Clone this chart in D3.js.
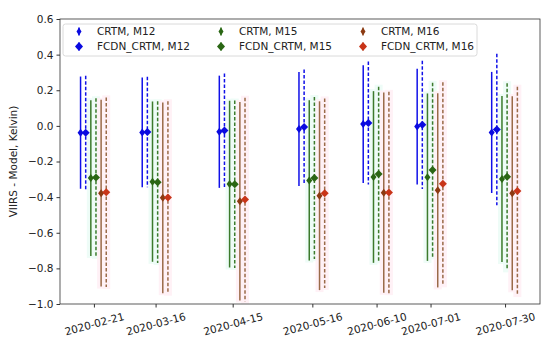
<!DOCTYPE html>
<html>
<head>
<meta charset="utf-8">
<script src="https://cdn.jsdelivr.net/npm/d3@7"></script>
<style>
body{margin:0;background:#fff;}
text{font-family:"DejaVu Sans",sans-serif;fill:#222;}
</style>
</head>
<body>
<svg width="550" height="349"></svg>
<script>
var dates = ["2020-02-21","2020-03-16","2020-04-15","2020-05-16","2020-06-10","2020-07-01","2020-07-30"];
var yTicks = [0.6,0.4,0.2,0.0,-0.2,-0.4,-0.6,-0.8,-1.0];

var crtmM12    = [-0.038,-0.037,-0.033,-0.017, 0.010,-0.004,-0.037];
var crtmM12Err = [ 0.315, 0.308, 0.315, 0.320, 0.330, 0.325, 0.340];
var fcdnM12    = [-0.038,-0.034,-0.026,-0.007, 0.016, 0.006,-0.020];
var fcdnM12Err = [ 0.320, 0.310, 0.320, 0.323, 0.345, 0.360, 0.425];
var crtmM15    = [-0.293,-0.313,-0.327,-0.306,-0.287,-0.288,-0.298];
var crtmM15Err = [ 0.437, 0.450, 0.468, 0.450, 0.482, 0.470, 0.466];
var fcdnM15    = [-0.290,-0.316,-0.328,-0.293,-0.270,-0.248,-0.286];
var fcdnM15Err = [ 0.445, 0.454, 0.470, 0.455, 0.490, 0.490, 0.525];
var crtmM16    = [-0.378,-0.404,-0.423,-0.392,-0.375,-0.362,-0.378];
var crtmM16Err = [ 0.524, 0.535, 0.557, 0.530, 0.562, 0.545, 0.545];
var fcdnM16    = [-0.372,-0.402,-0.414,-0.378,-0.374,-0.325,-0.365];
var fcdnM16Err = [ 0.532, 0.540, 0.572, 0.532, 0.565, 0.570, 0.585];

var series = [
    {name:"CRTM, M12", vals:crtmM12, errs:crtmM12Err, shift:-5.2, line:"#1010e8", mark:"#0a0ae0", dash:null, thin:true},
    {name:"FCDN_CRTM, M12", vals:fcdnM12, errs:fcdnM12Err, shift:-3.2, line:"#1010e8", mark:"#0a0ae0", dash:"3.5,2", thin:false},
    {name:"CRTM, M15", vals:crtmM15, errs:crtmM15Err, shift:-1.2, line:"#3c7a2c", mark:"#2a6614", dash:null, thin:true, bg:"#eefcf7"},
    {name:"FCDN_CRTM, M15", vals:fcdnM15, errs:fcdnM15Err, shift:0.8, line:"#3c7a2c", mark:"#2a6614", dash:"3.5,2", thin:false, bg:"#eefcf7"},
    {name:"CRTM, M16", vals:crtmM16, errs:crtmM16Err, shift:2.8, line:"#9a6a48", mark:"#8c3a12", dash:null, thin:true, bg:"#fff1f6"},
    {name:"FCDN_CRTM, M16", vals:fcdnM16, errs:fcdnM16Err, shift:4.8, line:"#9a6a48", mark:"#c83418", dash:"3.5,2", thin:false, bg:"#fff1f6"}
];

var W = 550, H = 349;
var mLeft = 60, mRight = 540, mTop = 19, mBottom = 304;
var parse = d3.timeParse("%Y-%m-%d");
var day = 86400000;
var first = parse(dates[0]), last = parse(dates[dates.length-1]);

var x = d3.scaleTime()
    .domain([new Date(+first - 13.2*day), new Date(+last + 13.6*day)])
    .range([mLeft, mRight]);
var y = d3.scaleLinear().domain([-1.0, 0.6]).range([mBottom, mTop]);

var svg = d3.select("svg");
svg.append("defs").append("clipPath").attr("id","clip")
    .append("rect").attr("x",mLeft).attr("y",mTop).attr("width",mRight-mLeft).attr("height",mBottom-mTop);

var plot = svg.append("g").attr("clip-path","url(#clip)");

function diamond(w,h){
    return "M0,"+(-h/2)+"L"+(w/2)+",0L0,"+(h/2)+"L"+(-w/2)+",0Z";
}
function xpos(s,i){
    return x(new Date(+parse(dates[i]) + s.shift*day));
}

// faint halos behind the green and brown bars
series.forEach(function(s){
    if(!s.bg) return;
    for(var i=0;i<dates.length;i++){
        var cx = xpos(s,i);
        plot.append("rect")
            .attr("x",cx-4).attr("width",8)
            .attr("y",y(s.vals[i]+s.errs[i])-2)
            .attr("height",y(s.vals[i]-s.errs[i])-y(s.vals[i]+s.errs[i])+4)
            .attr("fill",s.bg);
    }
});

series.forEach(function(s){
    for(var i=0;i<dates.length;i++){
        var cx = xpos(s,i);
        var ln = plot.append("line")
            .attr("x1",cx).attr("x2",cx)
            .attr("y1",y(s.vals[i]+s.errs[i]))
            .attr("y2",y(s.vals[i]-s.errs[i]))
            .attr("stroke",s.line)
            .attr("stroke-width",1.5);
        if(s.dash) ln.attr("stroke-dasharray",s.dash);
    }
});
series.forEach(function(s){
    for(var i=0;i<dates.length;i++){
        plot.append("path")
            .attr("d", s.thin ? diamond(6,8) : diamond(8,8))
            .attr("transform","translate("+xpos(s,i)+","+y(s.vals[i])+")")
            .attr("fill",s.mark);
    }
});

// frame
svg.append("rect")
    .attr("x",mLeft).attr("y",mTop).attr("width",mRight-mLeft).attr("height",mBottom-mTop)
    .attr("fill","none").attr("stroke","#333").attr("stroke-width",0.8);

// y axis
var yAxis = svg.append("g")
    .attr("transform","translate("+mLeft+",0)")
    .call(d3.axisLeft(y).tickValues(yTicks).tickSize(3.5).tickPadding(3)
        .tickFormat(function(d){ return d3.format(".1f")(d).replace("-","\u2212"); }));
yAxis.select(".domain").remove();
yAxis.selectAll("line").attr("stroke","#333");
yAxis.selectAll("text").attr("font-size",10.5).attr("fill","#222");

// x axis
var xAxis = svg.append("g")
    .attr("transform","translate(0,"+mBottom+")")
    .call(d3.axisBottom(x).tickValues(dates.map(parse)).tickSize(3.5).tickFormat(""));
xAxis.select(".domain").remove();
xAxis.selectAll("line").attr("stroke","#333");
xAxis.selectAll(".tick").append("text")
    .attr("transform","translate(0,20) rotate(-15)")
    .attr("text-anchor","middle")
    .attr("dy","0.35em")
    .attr("font-size",10.5)
    .attr("fill","#222")
    .text(function(d){ return d3.timeFormat("%Y-%m-%d")(d); });

svg.append("text")
    .attr("transform","translate(13,"+((mTop+mBottom)/2)+") rotate(-90)")
    .attr("text-anchor","middle")
    .attr("dy","0.35em")
    .attr("font-size",10.5)
    .text("VIIRS - Model, Kelvin)");

// legend
var lg = svg.append("g");
lg.append("rect")
    .attr("x",63).attr("y",24).attr("width",414).attr("height",32).attr("rx",2.5)
    .attr("fill","#fff").attr("fill-opacity",0.8)
    .attr("stroke","#d0d0d0").attr("stroke-width",0.8);
var colX = [79,221,363];
series.forEach(function(s,k){
    var col = Math.floor(k/2), row = k%2;
    var gx = colX[col], gy = 31.5 + row*15;
    lg.append("line").attr("x1",gx).attr("x2",gx).attr("y1",gy-4).attr("y2",gy+4)
        .attr("stroke",s.line).attr("stroke-width",1.5);
    lg.append("path")
        .attr("d", s.thin ? diamond(5,8) : diamond(8,9))
        .attr("transform","translate("+gx+","+gy+")")
        .attr("fill",s.mark);
    lg.append("text")
        .attr("x",gx+18).attr("y",gy).attr("dy","0.35em")
        .attr("font-size",10.5)
        .text(s.name);
});
</script>
</body>
</html>
